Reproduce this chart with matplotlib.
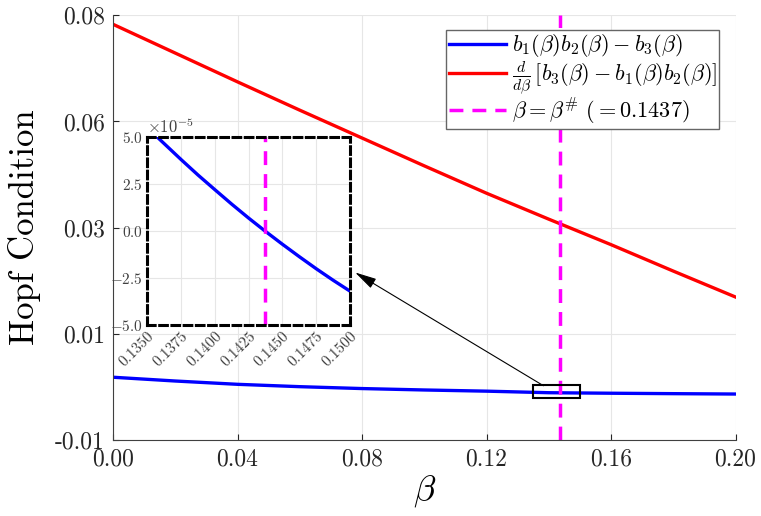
import matplotlib
matplotlib.use("Agg")
import matplotlib.pyplot as plt
from matplotlib.patches import Rectangle
import numpy as np

plt.rcParams['mathtext.fontset'] = 'cm'
plt.rcParams['font.family'] = 'serif'
plt.rcParams['font.serif'] = ['cmr10', 'DejaVu Serif']
plt.rcParams['axes.formatter.use_mathtext'] = True
plt.rcParams['axes.unicode_minus'] = False

# values
beta = [0.00, 0.02, 0.04, 0.06, 0.08, 0.10, 0.12, 0.14, 0.16, 0.18, 0.20]
hopf = [0.0033, 0.0025, 0.0018, 0.0013, 0.0009, 0.0006, 0.00035, 0.00002,
        -0.00009, -0.00018, -0.00026]
dhopf = [0.0781, 0.0720, 0.0659, 0.0599, 0.0540, 0.0481, 0.0423, 0.0368,
         0.0314, 0.0258, 0.0203]

beta_zoom = [0.13577, 0.1375, 0.13875, 0.1400, 0.14125, 0.1425, 0.1437,
             0.1450, 0.14625, 0.1475, 0.14875, 0.1500]
hopf_zoom = [4.96e-5, 3.79e-5, 2.97e-5, 2.19e-5, 1.42e-5, 0.68e-5, 0.0,
             -0.71e-5, -1.37e-5, -2.01e-5, -2.62e-5, -3.20e-5]

beta_star = 0.1437
yticks = [-0.01, 0.0125, 0.035, 0.0575, 0.08]
ytick_labels = ['-0.01', '0.01', '0.03', '0.06', '0.08']
xticks = [0.00, 0.04, 0.08, 0.12, 0.16, 0.20]
zoom_xticks = [0.1350, 0.1375, 0.1400, 0.1425, 0.1450, 0.1475, 0.1500]
zoom_yticks = [-5e-5, -2.5e-5, 0, 2.5e-5, 5e-5]

fig = plt.figure(figsize=(7.61, 5.16), dpi=100)
ax = fig.add_axes([0.1485, 0.1473, 0.818, 0.823])

ax.plot(beta, hopf, color='#0000ff', lw=2.4,
        label=r'$b_1(\beta)b_2(\beta)-b_3(\beta)$')
ax.plot(beta, dhopf, color='#ff0000', lw=2.4,
        label=r'$\frac{d}{d\beta}\,[b_3(\beta)-b_1(\beta)b_2(\beta)]$')
ax.axvline(beta_star, color='#ff00ff', lw=2.5, ls=(0, (4, 2.6)),
           label=r'$\beta=\beta^{\#}\ (=0.1437)$')

ax.set_xlim(0, 0.2)
ax.set_ylim(-0.01, 0.08)
ax.set_xticks(xticks)
ax.set_xticklabels(['%.2f' % t for t in xticks])
ax.set_yticks(yticks)
ax.set_yticklabels(ytick_labels)
ax.tick_params(direction='in', length=4, labelsize=17, colors='#262626', pad=6)
ax.grid(True, color='#e6e6e6', lw=0.8)
ax.set_axisbelow(True)
for s in ['top', 'right']:
    ax.spines[s].set_visible(False)
for s in ['left', 'bottom']:
    ax.spines[s].set_color('#404040')
ax.set_xlabel(r'$\beta$', fontsize=26, labelpad=2)
ax.set_ylabel('Hopf Condition', fontsize=25, labelpad=10)

leg = ax.legend(loc='upper right', bbox_to_anchor=(0.974, 0.965),
                borderaxespad=0, fancybox=False, framealpha=1,
                edgecolor='#666666', fontsize=16, handlelength=2.6,
                borderpad=0.1, labelspacing=0.0, handletextpad=0.25)
leg.get_frame().set_linewidth(1.0)

# small box marking the zoomed region
ax.add_patch(Rectangle((0.1350, -0.0012), 0.015, 0.0028, fill=False,
                       edgecolor='black', lw=1.5, zorder=5))

# inset
axi = fig.add_axes([0.1935, 0.370, 0.2665, 0.365])
axi.plot(beta_zoom, hopf_zoom, color='#0000ff', lw=2.4)
axi.axvline(beta_star, color='#ff00ff', lw=2.5, ls=(0, (4, 2.6)))
axi.set_xlim(0.135, 0.150)
axi.set_ylim(-5e-5, 5e-5)
axi.set_xticks(zoom_xticks)
axi.set_xticklabels(['%.4f' % t for t in zoom_xticks], rotation=45,
                    ha='right', rotation_mode='anchor')
axi.set_yticks(zoom_yticks)
axi.ticklabel_format(axis='y', style='sci', scilimits=(0, 0))
axi.yaxis.get_offset_text().set_fontsize(12)
axi.yaxis.get_offset_text().set_color('#404040')
axi.tick_params(length=0, labelsize=11, colors='#404040', pad=3)
axi.grid(True, color='#e6e6e6', lw=0.8)
axi.set_axisbelow(True)
for s in axi.spines.values():
    s.set_linestyle((0, (2.5, 1.5)))
    s.set_linewidth(2.2)
    s.set_color('black')

# arrow from the box to the inset
ax.annotate('', xy=(0.0778, 0.0255), xytext=(0.1383, 0.0015),
            arrowprops=dict(arrowstyle='-|>,head_length=0.6,head_width=0.15',
                            color='black', lw=0.8,
                            mutation_scale=22, shrinkA=0, shrinkB=0))

fig.savefig('out.png', dpi=100)
